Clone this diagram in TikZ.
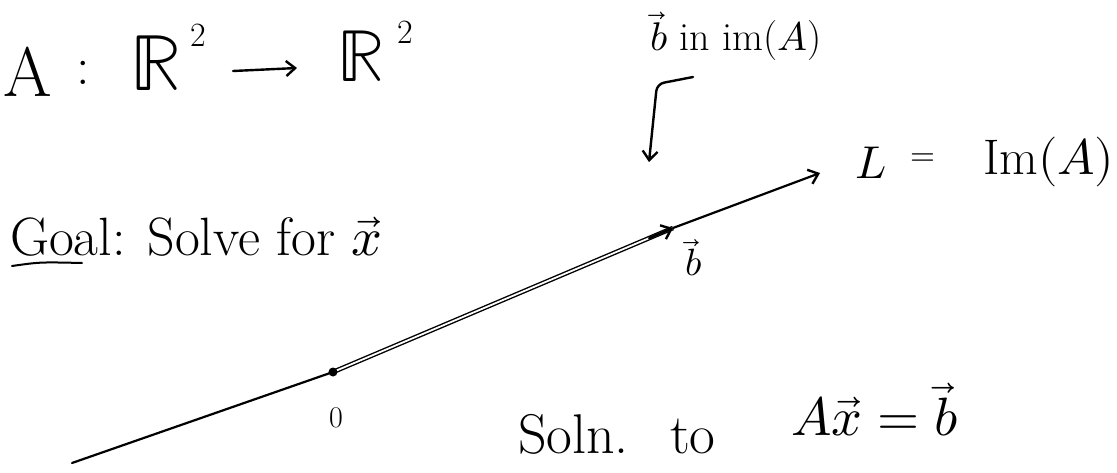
\documentclass[tikz,border=0pt]{standalone}
\usepackage{fontspec}
\usepackage{unicode-math}
\usetikzlibrary{arrows.meta,calc}
\begin{document}
\begin{tikzpicture}[x=1pt,y=-1pt,
  txt/.style={inner sep=0pt,outer sep=0pt,text=black},
  ink/.style={line width=2.4pt,line cap=round,line join=round,black},
  barb/.style={-{Straight Barb[length=9pt,width=15pt,line width=2.4pt]}},
  dbl/.style={double,double distance=1.8pt,line width=1.4pt,black}]
\useasboundingbox (0,0) rectangle (1117,472);
% top formula
\node[txt,anchor=base west,font=\fontsize{70}{80}\selectfont] (nA) at (3,96) {A};
\node[txt,font=\fontsize{54}{60}\selectfont] (colon) at (83,73) {:};
\node[txt,anchor=base west,font=\fontsize{80}{88}\selectfont] (R1) at (130,90) {$\mathbb{R}$};
\node[txt,font=\fontsize{34}{38}\selectfont] (two1) at (198,35) {2};
\node[txt,anchor=base west,font=\fontsize{74}{80}\selectfont] (R2) at (337,81) {$\mathbb{R}$};
\node[txt,font=\fontsize{34}{38}\selectfont] (two2) at (405,32) {2};
\coordinate (a1) at (233,71);
\coordinate (a2) at (297,68);
\draw[ink,barb] (a1) -- (a2);
% b in im(A)
\node[txt,anchor=base west,font=\fontsize{40}{44}\selectfont] (bin) at (650,50) {$\vec{b}$ in im($A$)};
\coordinate (k0) at (693,77);
\coordinate (k1) at (657,84);
\coordinate (k2) at (649,162);
\draw[ink,barb,rounded corners=7pt] (k0) -- (k1) -- (k2);
% line L
\coordinate (P0) at (72,463);
\coordinate (O) at (333,372);
\coordinate (B) at (673,228);
\coordinate (Lt) at (820,173);
\draw[ink,line width=2.2pt] (P0) -- (O);
\draw[dbl] (O) -- (B);
\draw[ink,barb] ($(O)!0.93!(B)$) -- (B);
\draw[ink,line width=2.2pt,barb] (B) -- (Lt);
\fill (O) circle (4.5pt);
\node[txt,font=\fontsize{38}{42}\selectfont] (blab) at (694,258) {$\vec{b}$};
\node[txt,font=\fontsize{30}{34}\selectfont] (zero) at (336,418) {0};
\node[txt,anchor=base west,font=\fontsize{46}{50}\selectfont] (Ln) at (855,178) {$L$};
\node[txt,font=\fontsize{32}{36}\selectfont] (eq) at (923,160) {$=$};
\node[txt,anchor=base west,font=\fontsize{50}{54}\selectfont] (Im) at (983,174) {$\mathrm{Im}(A)$};
% goal
\node[txt,anchor=base west,font=\fontsize{54}{58}\selectfont] (goal) at (10,255) {Goal: Solve for $\vec{x}$};
\coordinate (u0) at (12,266);
\coordinate (u1) at (82,263);
\draw[ink,line width=2pt] (u0) .. controls (40,262) .. (u1);
% solution
\node[txt,anchor=base west,font=\fontsize{56}{60}\selectfont] (soln) at (518,453) {Soln.};
\node[txt,anchor=base west,font=\fontsize{56}{60}\selectfont] (to) at (670,453) {to};
\node[txt,anchor=base west,font=\fontsize{54}{58}\selectfont] (axb) at (791,435) {$A\vec{x} = \vec{b}$};
\end{tikzpicture}
\end{document}
